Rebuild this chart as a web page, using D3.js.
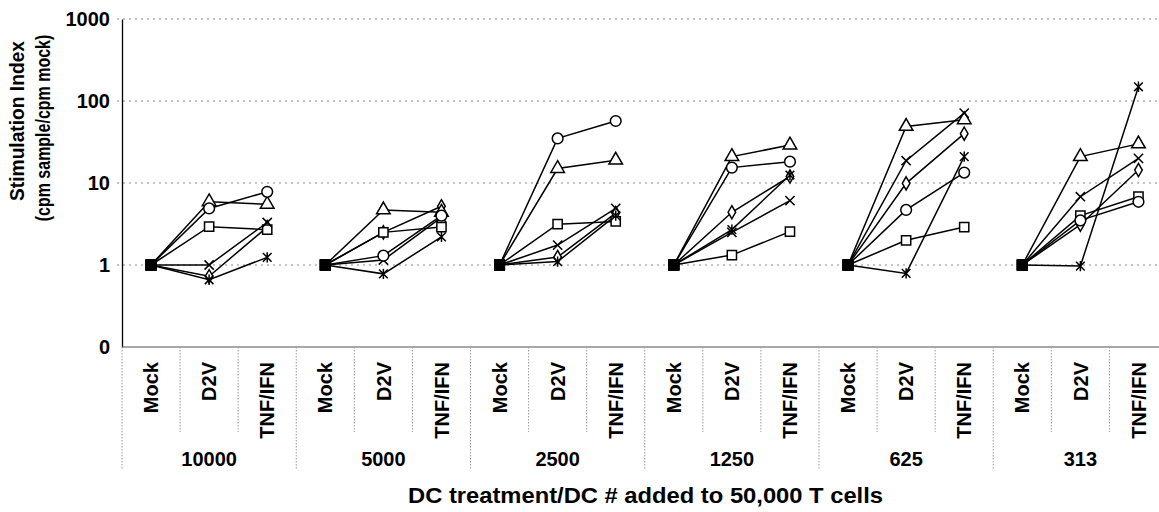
<!DOCTYPE html>
<html>
<head>
<meta charset="utf-8">
<script src="https://cdn.jsdelivr.net/npm/d3@7"></script>
<style>
  html, body { margin: 0; padding: 0; background: #fff; }
  svg { display: block; font-family: "Liberation Sans", Arial, sans-serif; }
  text { font-weight: bold; fill: #000; }
</style>
</head>
<body>
<svg id="chart" width="1159" height="512"></svg>
<script>
// DC numbers per well and the three DC treatments within each
const groups = ["10000", "5000", "2500", "1250", "625", "313"];
const treatments = ["Mock", "D2V", "TNF/IFN"];

// y ticks: the bottom of the log axis is labelled "0"
const yTickValues = [0.1, 1, 10, 100, 1000];
const yTickLabels = ["0", "1", "10", "100", "1000"];

// Stimulation index per donor; each row lists Mock, D2V, TNF/IFN for 10000 … 313 DC
const diamondSeries  = [1, 0.73, 2.9,  1, 2.5, 5.2,   1, 1.25, 4.3,  1, 4.4, 12,    1, 9.9, 40,   1, 3.1, 14.4];
const squareSeries   = [1, 2.93, 2.7,  1, 2.5, 2.9,   1, 3.15, 3.4,  1, 1.32, 2.55, 1, 2.0, 2.9,  1, 4.0, 6.8];
const triangleSeries = [1, 5.9, 5.5,   1, 4.7, 4.4,   1, 15, 19,     1, 21, 29,     1, 49, 59,    1, 21, 30];
const crossSeries    = [1, 1.0, 3.3,   1, 1.15, 3.8,  1, 1.75, 4.9,  1, 2.5, 6.1,   1, 18.7, 71,  1, 6.8, 20];
const starSeries     = [1, 0.66, 1.24, 1, 0.78, 2.2,  1, 1.1, 4.0,   1, 2.7, 12.5,  1, 0.79, 21,  1, 0.97, 149];
const circleSeries   = [1, 4.9, 7.8,   1, 1.3, 4.0,   1, 35, 57,     1, 15.4, 18.2, 1, 4.7, 13.4, 1, 3.5, 5.9];

// custom marker shapes for d3.symbol
const symbolX = {
  draw(ctx, size) {
    const r = Math.sqrt(size) / 2;
    ctx.moveTo(-r, -r); ctx.lineTo(r, r);
    ctx.moveTo(r, -r); ctx.lineTo(-r, r);
  }
};
const symbolAsterisk = {
  draw(ctx, size) {
    const r = Math.sqrt(size) / 2;
    ctx.moveTo(-r, -r); ctx.lineTo(r, r);
    ctx.moveTo(r, -r); ctx.lineTo(-r, r);
    ctx.moveTo(0, -r * 1.2); ctx.lineTo(0, r * 1.2);
  }
};

const series = [
  { values: diamondSeries,  symbol: d3.symbolDiamond,  size: 50 },
  { values: squareSeries,   symbol: d3.symbolSquare,   size: 85 },
  { values: triangleSeries, symbol: d3.symbolTriangle, size: 80 },
  { values: crossSeries,    symbol: symbolX,           size: 85 },
  { values: starSeries,     symbol: symbolAsterisk,    size: 75 },
  { values: circleSeries,   symbol: d3.symbolCircle,   size: 90 }
];

const categories = [];
groups.forEach(g => treatments.forEach(t => categories.push({ key: g + "|" + t, group: g, treatment: t })));

const svg = d3.select("#chart");
const plot = { left: 122, right: 1167.5, top: 19, bottom: 347 };

const x = d3.scaleBand().domain(categories.map(c => c.key)).range([plot.left, plot.right]).padding(0);
const xGroup = d3.scaleBand().domain(groups).range([plot.left, plot.right]).padding(0);
const y = d3.scaleLog().domain([0.1, 1000]).range([plot.bottom, plot.top]);

svg.append("rect").attr("width", 1159).attr("height", 512).attr("fill", "#fff");

// horizontal grid lines
svg.append("g")
  .selectAll("line")
  .data(yTickValues.filter(v => v > 0.1))
  .join("line")
  .attr("x1", plot.left - 5).attr("x2", plot.right)
  .attr("y1", d => y(d)).attr("y2", d => y(d))
  .attr("stroke", "#8a8a8a").attr("stroke-width", 1)
  .attr("stroke-dasharray", "2,4");

// y axis with its labels
const yAxis = d3.axisLeft(y)
  .tickValues(yTickValues)
  .tickFormat((d, i) => yTickLabels[i])
  .tickSize(0)
  .tickPadding(12);
const yg = svg.append("g").attr("transform", `translate(${plot.left},0)`).call(yAxis);
yg.select(".domain").attr("stroke", "#000").attr("stroke-width", 1.3);
yg.selectAll("text").attr("font-size", 20).attr("font-weight", "bold")
  .attr("font-family", "Liberation Sans, Arial, sans-serif").attr("fill", "#000");

// bottom axis line
svg.append("line")
  .attr("x1", plot.left).attr("x2", plot.right)
  .attr("y1", plot.bottom).attr("y2", plot.bottom)
  .attr("stroke", "#555").attr("stroke-width", 1.2);

// category / group separators under the axis
const sepIdx = d3.range(0, categories.length + 1);
svg.append("g")
  .selectAll("line")
  .data(sepIdx)
  .join("line")
  .attr("x1", i => plot.left + i * x.bandwidth())
  .attr("x2", i => plot.left + i * x.bandwidth())
  .attr("y1", plot.bottom)
  .attr("y2", i => (i % 3 === 0 ? 470 : 432))
  .attr("stroke", "#9a9a9a").attr("stroke-width", 1)
  .attr("stroke-dasharray", "1.5,1.5");

// treatment labels (rotated)
svg.append("g")
  .selectAll("text")
  .data(categories)
  .join("text")
  .attr("transform", d => `translate(${x(d.key) + x.bandwidth() / 2},362) rotate(-90)`)
  .attr("text-anchor", "end")
  .attr("dy", "0.36em")
  .attr("font-size", 20)
  .text(d => d.treatment);

// DC number labels
svg.append("g")
  .selectAll("text")
  .data(groups)
  .join("text")
  .attr("x", d => xGroup(d) + xGroup.bandwidth() / 2)
  .attr("y", 466)
  .attr("text-anchor", "middle")
  .attr("font-size", 20)
  .text(d => d);

// axis titles
svg.append("text")
  .attr("x", 408)
  .attr("y", 503)
  .attr("font-size", 21.5)
  .attr("textLength", 475)
  .attr("lengthAdjust", "spacingAndGlyphs")
  .text("DC treatment/DC # added to 50,000 T cells");

// y title: two lines, condensed along the text direction
svg.append("g").attr("transform", "translate(17,121) rotate(-90) scale(0.96,1)")
  .append("text").attr("text-anchor", "middle").attr("dy", "0.36em")
  .attr("font-size", 20)
  .text("Stimulation Index");
svg.append("g").attr("transform", "translate(43,128) rotate(-90) scale(0.82,1)")
  .append("text").attr("text-anchor", "middle").attr("dy", "0.36em")
  .attr("font-size", 19.5)
  .text("(cpm sample/cpm mock)");

// lines: one segment chain per series within each DC group
const line = d3.line().x(d => x(d.key) + x.bandwidth() / 2).y(d => y(d.v));
const linesG = svg.append("g");
series.forEach(s => {
  groups.forEach((g, gi) => {
    const pts = treatments.map((t, ti) => ({ key: g + "|" + t, v: s.values[gi * 3 + ti] }));
    linesG.append("path")
      .attr("d", line(pts))
      .attr("fill", "none").attr("stroke", "#000").attr("stroke-width", 1.5);
  });
});

// markers
const markG = svg.append("g");
series.forEach(s => {
  const pts = categories.map((c, i) => ({ c, v: s.values[i] }));
  const sym = d3.symbol().type(s.symbol).size(s.size);
  markG.selectAll(null)
    .data(pts)
    .join("path")
    .attr("transform", d => `translate(${x(d.c.key) + x.bandwidth() / 2},${y(d.v)})`)
    .attr("d", d => (d.c.treatment === "Mock" ? d3.symbol().type(d3.symbolSquare).size(90)() : sym()))
    .attr("fill", d => (d.c.treatment === "Mock" ? "#000" : (s.symbol === symbolX || s.symbol === symbolAsterisk ? "none" : "#fff")))
    .attr("stroke", "#000").attr("stroke-width", 1.5);
});
</script>
</body>
</html>
